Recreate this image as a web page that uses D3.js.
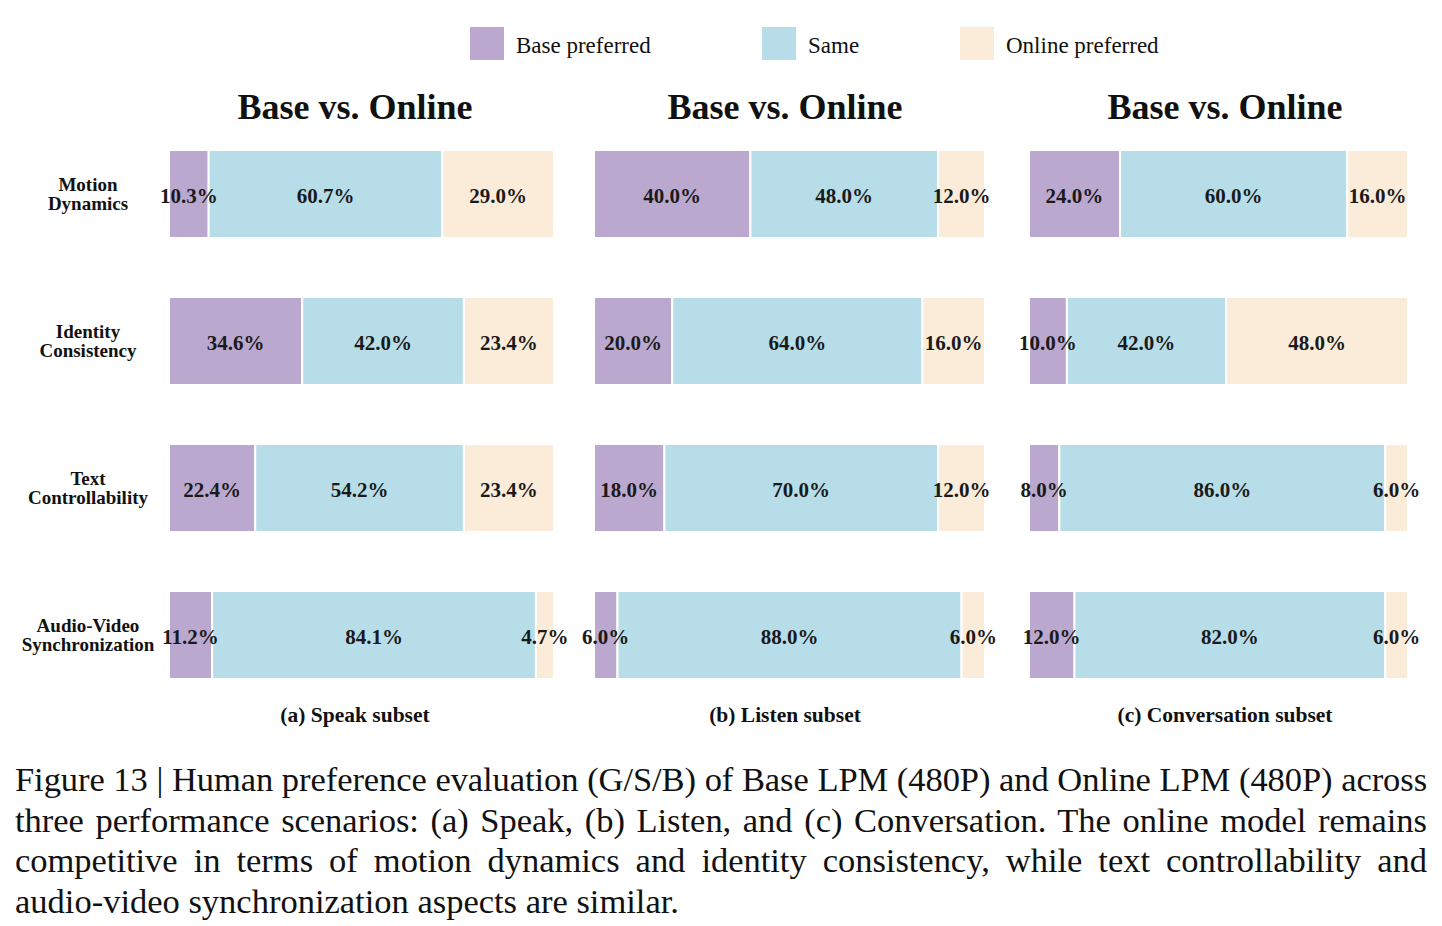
<!DOCTYPE html>
<html><head><meta charset="utf-8">
<script src="https://cdn.jsdelivr.net/npm/d3@7"></script>
<style>
html,body{margin:0;padding:0;background:#fff;}
#wrap{position:relative;width:1442px;height:926px;overflow:hidden;}
svg{position:absolute;left:0;top:0;}
#caption{position:absolute;left:15px;top:759px;width:1412px;font-family:"Liberation Serif","Times New Roman",serif;font-size:34.5px;color:#111;}
#caption div{height:40.5px;line-height:40.5px;white-space:nowrap;text-align:justify;text-align-last:justify;}
#caption div.last{text-align-last:left;}
</style></head>
<body><div id="wrap"><svg id="chart" width="1442" height="926"></svg><div id="caption"></div></div>
<script>
const rows = [["Motion","Dynamics"],["Identity","Consistency"],["Text","Controllability"],["Audio-Video","Synchronization"]];
const seriesNames = ["Base preferred","Same","Online preferred"];
const colors = ["#bba8cf","#b7dde8","#faecd9"];
const panelTitles = ["Base vs. Online","Base vs. Online","Base vs. Online"];
const subsetLabels = ["(a) Speak subset","(b) Listen subset","(c) Conversation subset"];
// values per panel: [base, same, online] per row
const speakBase = [10.3, 34.6, 22.4, 11.2];
const speakSame = [60.7, 42.0, 54.2, 84.1];
const speakOnline = [29.0, 23.4, 23.4, 4.7];
const listenBase = [40.0, 20.0, 18.0, 6.0];
const listenSame = [48.0, 64.0, 70.0, 88.0];
const listenOnline = [12.0, 16.0, 12.0, 6.0];
const convBase = [24.0, 10.0, 8.0, 12.0];
const convSame = [60.0, 42.0, 86.0, 82.0];
const convOnline = [16.0, 48.0, 6.0, 6.0];
const captionLines = [
 "Figure 13 | Human preference evaluation (G/S/B) of Base LPM (480P) and Online LPM (480P) across",
 "three performance scenarios: (a) Speak, (b) Listen, and (c) Conversation. The online model remains",
 "competitive in terms of motion dynamics and identity consistency, while text controllability and",
 "audio-video synchronization aspects are similar."
];

const panels = [
  {vals:[speakBase,speakSame,speakOnline], x0:169, x1:554, tx:355},
  {vals:[listenBase,listenSame,listenOnline], x0:594, x1:985, tx:785},
  {vals:[convBase,convSame,convOnline], x0:1029, x1:1408, tx:1225}
];

const svg = d3.select("#chart");
const serif = '"Liberation Serif","Times New Roman",serif';
const rowKeys = rows.map(r=>r.join(" "));
const y = d3.scaleBand().domain(rowKeys).range([150, 679]).paddingInner(0.4014).paddingOuter(0);

// legend
const legendX = [470, 762, 960];
const lg = svg.append("g");
seriesNames.forEach((s,i)=>{
  lg.append("rect").attr("x",legendX[i]).attr("y",27).attr("width",34).attr("height",33).attr("fill",colors[i]);
  lg.append("text").attr("x",legendX[i]+46).attr("y",53).attr("font-family",serif).attr("font-size",23).attr("fill","#111").text(s);
});

// row labels
const rl = svg.append("g");
rows.forEach((r,i)=>{
  const cy = y(rowKeys[i]) + y.bandwidth()/2;
  const t = rl.append("text").attr("text-anchor","middle").attr("font-family",serif).attr("font-weight","bold").attr("font-size",19).attr("fill","#111");
  t.append("tspan").attr("x",88).attr("y",cy-3).text(r[0]);
  t.append("tspan").attr("x",88).attr("y",cy+16).text(r[1]);
});

panels.forEach((p,pi)=>{
  const x = d3.scaleLinear().domain([0,100]).range([p.x0,p.x1]);
  const g = svg.append("g");
  g.append("text").attr("x",p.tx).attr("y",119).attr("text-anchor","middle").attr("font-family",serif).attr("font-weight","bold").attr("font-size",36).attr("fill","#111").text(panelTitles[pi]);
  g.append("text").attr("x",p.tx).attr("y",722).attr("text-anchor","middle").attr("font-family",serif).attr("font-weight","bold").attr("font-size",21.5).attr("fill","#111").text(subsetLabels[pi]);
  rowKeys.forEach((rk,ri)=>{
    let acc = 0;
    p.vals.forEach((sv,si)=>{
      const v = sv[ri];
      const xa = x(acc), xb = x(acc+v);
      g.append("rect").attr("x",xa).attr("y",y(rk)).attr("width",xb-xa).attr("height",y.bandwidth())
        .attr("fill",colors[si]).attr("stroke","#fff").attr("stroke-width",2);
      acc += v;
    });
    acc = 0;
    p.vals.forEach((sv,si)=>{
      const v = sv[ri];
      const mid = x(acc + v/2);
      g.append("text").attr("x",mid).attr("y",y(rk)+y.bandwidth()/2).attr("dy","0.42em").attr("text-anchor","middle")
        .attr("font-family",serif).attr("font-weight","bold").attr("font-size",21).attr("fill","#1a1a1a").text(v.toFixed(1)+"%");
      acc += v;
    });
  });
});

const cap = d3.select("#caption");
captionLines.forEach((l,i)=>{
  const d = cap.append("div").attr("class", i===captionLines.length-1 ? "last" : null);
  const sp = d.append("span").text(l);
  const w = sp.node().getBoundingClientRect().width;
  if (w > 1410) d.style("letter-spacing", ((1410 - w)/l.length) + "px");
});
</script></body></html>
